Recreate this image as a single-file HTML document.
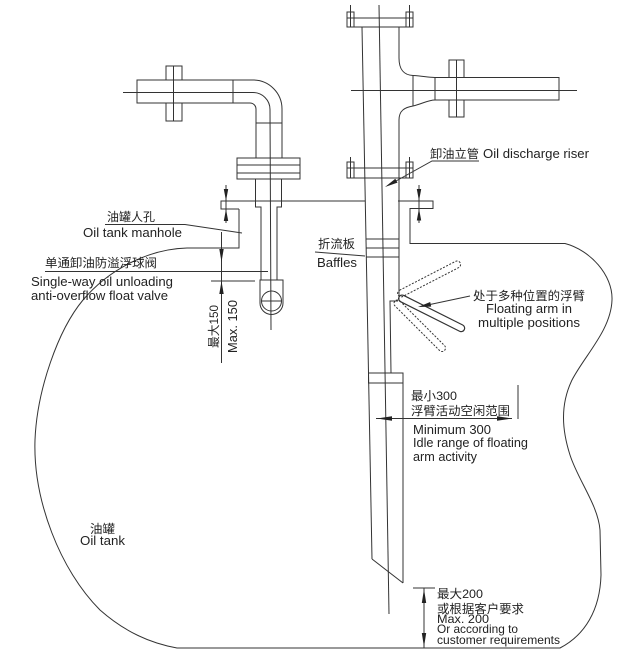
<!DOCTYPE html>
<html><head><meta charset="utf-8"><style>
html,body{margin:0;padding:0;background:#fff;}
svg{display:block;}
text{font-family:"Liberation Sans","Noto Sans CJK SC",sans-serif;fill:#222;}
</style></head><body>
<svg width="621" height="662" viewBox="0 0 621 662" xmlns="http://www.w3.org/2000/svg">
<rect width="621" height="662" fill="#fff"/>
<g fill="none" stroke="#333" stroke-width="1">
<!-- tank outline -->
<path d="M239,209 L239,248 L187,248 C150,249 110,268 83,300 C58,330 37,390 35,440 C33,500 60,570 100,610 C125,632 150,643 177,648 L560,648 C585,635 600,610 601,575 L600,530 C598,505 578,480 570,455 C562,430 560,405 572,380 C585,355 611,330 612,300 C613,275 590,250 565,243.5 L410,243.5 L410,208.5 L433,208.5 L433,201 L398,201"/>
<path d="M365,201 L221,201 L221,209 L239,209"/>

<!-- riser -->
<line x1="362" y1="27" x2="372" y2="559"/>
<line x1="372" y1="559" x2="403" y2="583"/>
<line x1="403" y1="383" x2="403" y2="583"/>
<rect x="368.5" y="373" width="34.5" height="10"/>
<path d="M398,301 L390,301 L391,373"/>
<line x1="379" y1="5" x2="389" y2="614"/>
<path d="M399,27 L399,58 C399,70 404,75 413,75.5 C423,76 428,77.5 435,77.5"/>
<path d="M435,100 C428,100 422,104 413,106 C404,107.5 399,111 399,120 L399,301"/>
<line x1="413" y1="75.5" x2="413" y2="106"/>
<rect x="435" y="77.5" width="124" height="22.5"/>
<rect x="449" y="60" width="15" height="17.5"/>
<rect x="449" y="100" width="15" height="17"/>
<line x1="456.5" y1="60" x2="456.5" y2="117"/>
<line x1="351" y1="90.5" x2="577" y2="90.5"/>
<!-- top flange -->
<rect x="347" y="18" width="66" height="9"/>
<rect x="347" y="12" width="7" height="15"/>
<rect x="406" y="12" width="7" height="15"/>
<line x1="350.5" y1="5" x2="350.5" y2="27"/>
<line x1="409.5" y1="5" x2="409.5" y2="27"/>
<!-- middle flange -->
<rect x="347" y="168" width="66" height="10"/>
<rect x="347" y="162" width="7" height="16"/>
<rect x="406" y="162" width="7" height="16"/>
<line x1="350.5" y1="157" x2="350.5" y2="178"/>
<line x1="409.5" y1="157" x2="409.5" y2="178"/>
<!-- baffles -->
<line x1="366" y1="239" x2="399" y2="239"/>
<line x1="366" y1="248" x2="399" y2="248"/>
<line x1="366" y1="257" x2="399" y2="257"/>

<!-- left pipe -->
<rect x="137" y="80" width="96" height="23"/>
<path d="M233,80 L253,80 A29,29 0 0 1 282,109 L282,158"/>
<path d="M233,103 L250,103 A6,6 0 0 1 256,109 L256,158"/>
<path d="M123,92.5 L253,92.5 A17,17 0 0 1 270,109.5 L271,330"/>
<line x1="256" y1="123" x2="282" y2="123"/>
<rect x="166" y="66" width="16" height="14"/>
<rect x="166" y="103" width="16" height="18"/>
<line x1="173.5" y1="66" x2="173.5" y2="121"/>
<rect x="237" y="158" width="63" height="21"/>
<line x1="237" y1="165" x2="300" y2="165"/>
<line x1="237" y1="173" x2="300" y2="173"/>
<path d="M255.5,179 L255.5,207 L261,207 L261,280"/>
<path d="M281.5,179 L281.5,207 L277,207 L277,280"/>
<path d="M260,280 L283,280 L283,303 A11.5,11.5 0 0 1 260,303 Z"/>
<circle cx="271.5" cy="301" r="10"/>
<line x1="261.5" y1="301" x2="281.5" y2="301"/>

<!-- floating arms -->
<g transform="translate(399,297) rotate(26.6)"><rect x="0" y="-3.5" width="73" height="7" rx="3.5" stroke-width="1.2"/></g>
<g transform="translate(398,295) rotate(-27.3)"><rect x="0" y="-3.5" width="70" height="7" rx="3.5" stroke-dasharray="2,1.5"/></g>
<g transform="translate(395,301) rotate(45)"><rect x="0" y="-3.5" width="70" height="7" rx="3.5" stroke-dasharray="2,1.5"/></g>

<!-- dimensions -->
<line x1="226" y1="185" x2="226" y2="223"/>
<line x1="419" y1="185" x2="419" y2="223"/>
<line x1="221.5" y1="232" x2="221.5" y2="363"/>
<line x1="211" y1="281" x2="255" y2="281"/>
<line x1="376" y1="418.5" x2="512" y2="418.5"/>
<line x1="518" y1="385" x2="518" y2="419"/>
<line x1="413" y1="588" x2="435" y2="588"/>
<line x1="424" y1="588" x2="424" y2="648"/>

<!-- leaders -->
<polyline points="105,224.5 185,224.5 242,233"/>
<line x1="45" y1="271.5" x2="268" y2="271.5"/>
<polyline points="479,161 432,161 396,181"/>
<line x1="315" y1="252" x2="365" y2="256"/>
<line x1="470" y1="296" x2="430" y2="304.5"/>
</g>

<g fill="#222" stroke="none">
<polygon points="226,201 223.8,189 228.2,189"/>
<polygon points="226,209 223.8,221 228.2,221"/>
<polygon points="419,201 416.8,189 421.2,189"/>
<polygon points="419,208.5 416.8,220.5 421.2,220.5"/>
<polygon points="221.5,262 219.3,249 223.7,249"/>
<polygon points="221.5,281 219.3,294 223.7,294"/>
<polygon points="377,418.5 392,416.3 392,420.7"/>
<polygon points="512,418.5 497,416.3 497,420.7"/>
<polygon points="424,589 421.8,603 426.2,603"/>
<polygon points="424,647 421.8,633 426.2,633"/>
<polygon points="385,187 397.5,182.6 395.3,178.8"/>
<polygon points="418,307 431.2,306.6 430.2,302"/>
</g>

<!-- labels -->
<g font-size="12">
<text x="107" y="221" textLength="48" lengthAdjust="spacingAndGlyphs">油罐人孔</text>
<text x="45" y="267" textLength="112" lengthAdjust="spacingAndGlyphs">单通卸油防溢浮球阀</text>
<text transform="translate(218,348) rotate(-90)" x="0" y="0" textLength="43" lengthAdjust="spacingAndGlyphs">最大150</text>
<text x="430" y="158" textLength="49" lengthAdjust="spacingAndGlyphs">卸油立管</text>
<text x="318" y="248" textLength="37" lengthAdjust="spacingAndGlyphs">折流板</text>
<text x="473" y="300" textLength="112" lengthAdjust="spacingAndGlyphs">处于多种位置的浮臂</text>
<text x="411" y="400" textLength="46" lengthAdjust="spacingAndGlyphs">最小300</text>
<text x="411" y="415" textLength="99" lengthAdjust="spacingAndGlyphs">浮臂活动空闲范围</text>
<text x="437" y="598" textLength="46" lengthAdjust="spacingAndGlyphs">最大200</text>
<text x="437" y="613" textLength="87" lengthAdjust="spacingAndGlyphs">或根据客户要求</text>
<text x="90" y="533" textLength="25" lengthAdjust="spacingAndGlyphs">油罐</text>
</g>
<g font-size="13">
<text x="83" y="237" textLength="99" lengthAdjust="spacingAndGlyphs">Oil tank manhole</text>
<text x="31" y="286" textLength="142" lengthAdjust="spacingAndGlyphs">Single-way oil unloading</text>
<text x="31" y="300" textLength="137" lengthAdjust="spacingAndGlyphs">anti-overflow float valve</text>
<text transform="translate(237,353) rotate(-90)" x="0" y="0" textLength="53" lengthAdjust="spacingAndGlyphs">Max. 150</text>
<text x="483" y="158" textLength="106" lengthAdjust="spacingAndGlyphs">Oil discharge riser</text>
<text x="317" y="267" textLength="40" lengthAdjust="spacingAndGlyphs">Baffles</text>
<text x="486" y="313" textLength="86" lengthAdjust="spacingAndGlyphs">Floating arm in</text>
<text x="478" y="327" textLength="102" lengthAdjust="spacingAndGlyphs">multiple positions</text>
<text x="413" y="434" textLength="78" lengthAdjust="spacingAndGlyphs">Minimum 300</text>
<text x="413" y="447" textLength="115" lengthAdjust="spacingAndGlyphs">Idle range of floating</text>
<text x="413" y="461" textLength="64" lengthAdjust="spacingAndGlyphs">arm activity</text>
<text x="80" y="545" textLength="45" lengthAdjust="spacingAndGlyphs">Oil tank</text>
</g>
<g font-size="12">
<text x="437" y="623" textLength="52" lengthAdjust="spacingAndGlyphs">Max. 200</text>
<text x="437" y="633" textLength="81" lengthAdjust="spacingAndGlyphs">Or according to</text>
<text x="437" y="644" textLength="123" lengthAdjust="spacingAndGlyphs">customer requirements</text>
</g>
</svg>
</body></html>
